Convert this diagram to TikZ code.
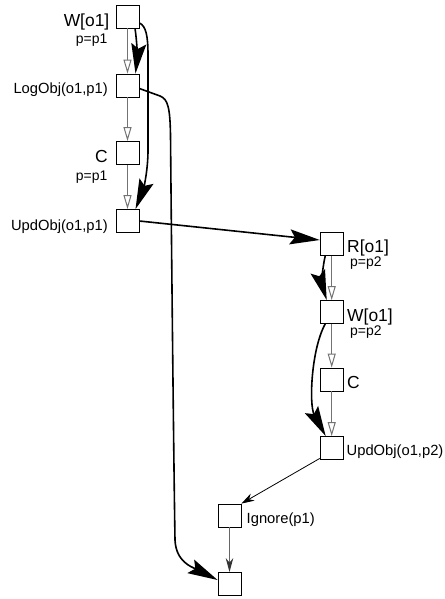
\documentclass[tikz,border=0pt]{standalone}
\usepackage{fontspec}
\setmainfont{Liberation Sans}
\usetikzlibrary{arrows.meta}
\begin{document}
\begin{tikzpicture}[x=1bp,y=-1bp,
  box/.style={draw, fill=white, minimum size=23bp, inner sep=0pt, line width=0.8bp},
  lbig/.style={inner sep=0pt, font=\fontsize{17.5}{20}\selectfont},
  lmid/.style={inner sep=0pt, font=\fontsize{14.8}{17}\selectfont},
  lsmall/.style={inner sep=0pt, font=\fontsize{14}{16}\selectfont},
  po/.style={draw=black!55, line width=1bp, -{Triangle[open,length=14bp,width=8bp,fill=white]}},
  dep/.style={line width=1.6bp, -{Stealth[length=30bp,width=15bp,inset=5bp]}},
  lnk/.style={line width=0.8bp, -{Stealth[length=13bp,width=8bp]}},
  lnkg/.style={draw=black!60, line width=1bp, -{Stealth[length=14bp,width=7.5bp,black!80]}}]
\useasboundingbox (0,0) rectangle (445,599);

% process p1
\node[box] (w1) at (127.5,16.5) {};
\node[box] (lo) at (127.5,85.5) {};
\node[box] (c1) at (127.5,153) {};
\node[box] (u1) at (127.5,221) {};
% process p2
\node[box] (r2) at (331.7,244) {};
\node[box] (w2) at (331.7,312) {};
\node[box] (c2) at (331.7,379.5) {};
\node[box] (u2) at (331.7,448) {};
% tail
\node[box] (ig) at (229.5,515.5) {};
\node[box] (fin) at (229.5,584) {};

% labels
\node[lbig, anchor=base east] (lw1) at (109.5,26.5) {W[o1]};
\node[lsmall, anchor=base east] (lp1) at (107.5,43.5) {p=p1};
\node[lmid, anchor=base east] (llo) at (108,93.5) {LogObj(o1,p1)};
\node[lbig, anchor=base east] (lc1) at (108,162.5) {C};
\node[lsmall, anchor=base east] (lp1b) at (107.5,180) {p=p1};
\node[lmid, anchor=base east] (lu1) at (108,230) {UpdObj(o1,p1)};
\node[lbig, anchor=base west] (lr2) at (347,252) {R[o1]};
\node[lsmall, anchor=base west] (lp2) at (350,266.5) {p=p2};
\node[lbig, anchor=base west] (lw2) at (347,321) {W[o1]};
\node[lsmall, anchor=base west] (lp2b) at (350,335) {p=p2};
\node[lbig, anchor=base west] (lc2) at (347,388) {C};
\node[lmid, anchor=base west] (lu2) at (346.5,455) {UpdObj(o1,p2)};
\node[lmid, anchor=base west] (lig) at (246.5,523) {Ignore(p1)};

% program order
\draw[po] (w1.south) -- (lo.north);
\draw[po] (lo.south) -- (c1.north);
\draw[po] (c1.south) -- (u1.north);
\draw[po] (r2.south) -- (w2.north);
\draw[po] (w2.south) -- (c2.north);
\draw[po] (c2.south) -- (u2.north);

% dependencies
\draw[dep] ([xshift=7.5bp]w1.south) .. controls (137.5,45) and (137,60) .. ([xshift=8bp]lo.north);
\draw[dep] ([yshift=-6.5bp]w1.east) .. controls (146,26) and (148,36) .. (148,55)
  -- (148,150) .. controls (148,172) and (143,190) .. ([xshift=8bp]u1.north);
\draw[dep] ([yshift=-3bp]lo.east) -- (160,96) .. controls (168,99) and (170,108) .. (170.5,135)
  .. controls (172,300) and (174,480) .. (175,540)
  .. controls (176,562) and (192,567) .. ([yshift=4bp]fin.west);
\draw[dep] (u1.east) -- ([yshift=4bp]r2.west);
\draw[dep] ([xshift=-6.5bp]r2.south) .. controls (322,270) and (322,285) .. ([xshift=-5bp]w2.north);
\draw[dep] ([xshift=-6.5bp]w2.south) .. controls (311,350) and (309,405) .. ([xshift=-6bp]u2.north);
\draw[lnk] ([yshift=1.5bp]u2.south west) -- (ig.north east);
\draw[lnkg] (ig.south) -- (fin.north);
\end{tikzpicture}
\end{document}
